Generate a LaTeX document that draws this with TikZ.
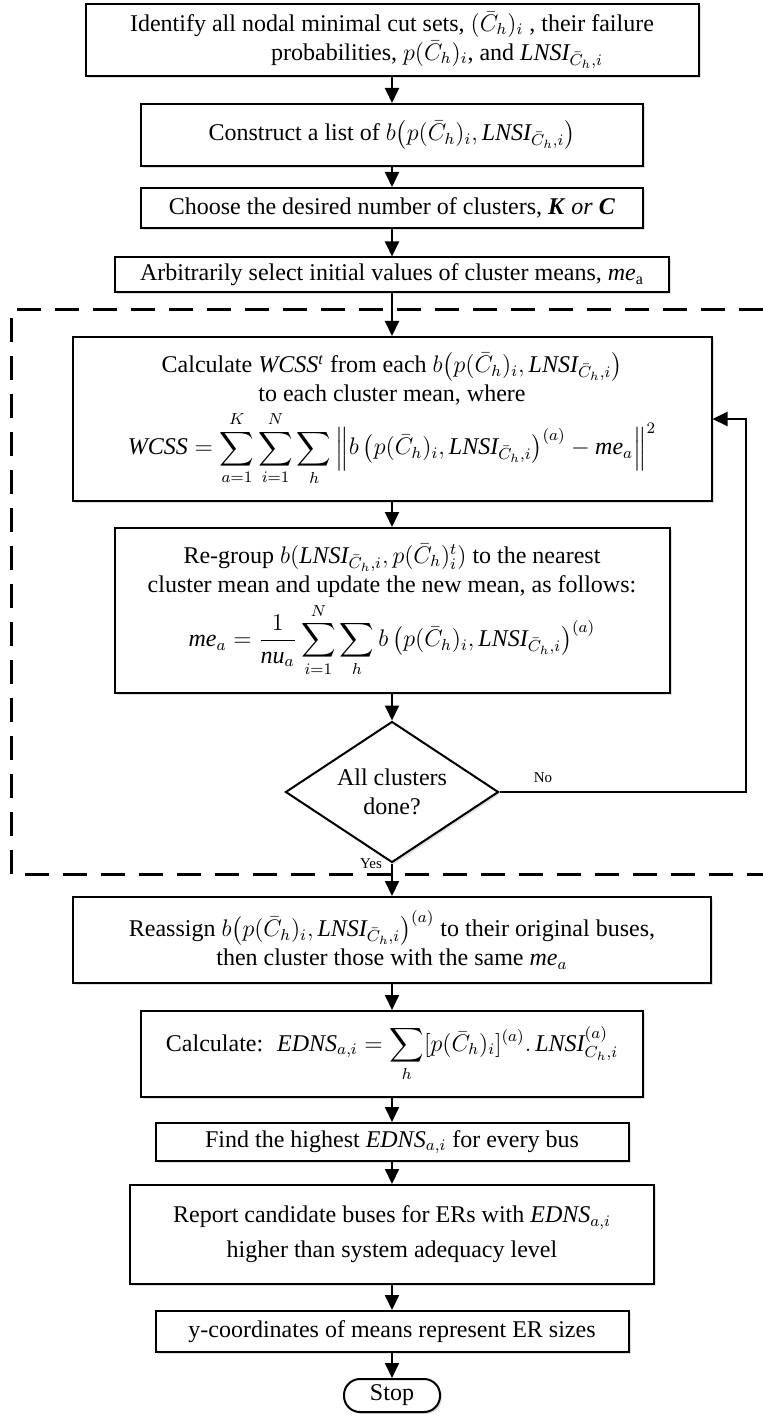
\documentclass[tikz,border=0pt]{standalone}
\usepackage{amsmath,amssymb}
\usepackage{fontspec}
\setmainfont{Liberation Serif}
\usetikzlibrary{shapes.geometric,arrows.meta,shadows}

\begin{document}
\begin{tikzpicture}[x=0.5pt, y=-0.5pt,
    box/.style={draw, line width=1pt, fill=white, align=center, inner sep=1pt,
      drop shadow={shadow xshift=1pt, shadow yshift=-1pt, opacity=0.25},
      font=\fontsize{12}{14.5}\selectfont},
    decide/.style={box, diamond, shape aspect=1.5, inner sep=0pt},
    term/.style={box, rounded corners=8pt},
    arr/.style={line width=1pt, -{Triangle[length=7.5pt, width=7pt]}},
    frame/.style={line width=1.5pt, dash pattern=on 12pt off 7pt},
    tag/.style={font=\fontsize{7.5}{9}\selectfont, inner sep=0pt}]
    \useasboundingbox (0,0) rectangle (763,1416);
    \def\Ch{\bar{C}_h}
    \def\Lnsi{\mathit{LNSI}}
    \def\Edns{\mathit{EDNS}}
    \def\bpair{p(\Ch)_i, \Lnsi_{\Ch,i}}

    % the loop of the clustering
    \draw[frame] (763,310) -| (11,874) -- (763,874);

    \node[box, minimum width=306.5pt, minimum height=36pt] (ident) at (392,40)
      {Identify all nodal minimal cut sets, $(\Ch)_i$ , their failure\\
       \hspace*{45pt}probabilities, $p(\Ch)_i$, and $\Lnsi_{\Ch,i}$};
    \node[box, minimum width=251pt, minimum height=31pt] (constr) at (392,135)
      {Construct a list of $b\bigl(\bpair\bigr)$};
    \node[box, minimum width=251pt, minimum height=20pt] (choose) at (392,208)
      {Choose the desired number of clusters, \textbf{\textit{K}} \textit{or} \textbf{\textit{C}}};
    \node[box, minimum width=277pt, minimum height=17.5pt] (arbit) at (392,275)
      {Arbitrarily select initial values of cluster means, \textit{me}\textsubscript{a}};

    \node[box, minimum width=319.5pt, minimum height=82pt] (wcss) at (392,419)
      {Calculate \textit{WCSS}\textsuperscript{\textit{t}} from each $b\bigl(\bpair\bigr)$\\
       to each cluster mean, where\\[2pt]
       $\displaystyle \mathit{WCSS}=\sum_{a=1}^{K}\sum_{i=1}^{N}\sum_{h}
         \left\| b\left(p(\Ch)_{i}, \Lnsi_{\Ch,i}\right)^{(a)}-\mathit{me}_a\right\|^2$};
    \node[box, minimum width=277.5pt, minimum height=82.5pt] (regroup) at (392,610.5)
      {Re-group $b(\Lnsi_{\Ch,i}, p(\Ch)_i^t)$ to the nearest\\
       cluster mean and update the new mean, as follows:\\[2pt]
       $\displaystyle \mathit{me}_a=\frac{1}{\mathit{nu}_a}\sum_{i=1}^{N}\sum_{h}
         b\left(p(\Ch)_{i}, \Lnsi_{\Ch,i}\right)^{(a)}$};
    \node[decide, minimum width=106.5pt, minimum height=70.5pt] (done) at (392,792)
      {All clusters\\ done?};

    \node[box, minimum width=319pt, minimum height=43pt] (reassign) at (392,940)
      {Reassign $b\bigl(\bpair\bigr)^{(a)}$ to their original buses,\\
       then cluster those with the same $\mathit{me}_a$};
    \node[box, minimum width=251pt, minimum height=43pt] (edns) at (392,1054)
      {Calculate:~ $\displaystyle \Edns_{a,i}=\sum_{h}[p(\Ch)_i]^{(a)}.\,\Lnsi^{(a)}_{C_h,i}$};
    \node[box, minimum width=236.5pt, minimum height=19pt] (highest) at (392,1142)
      {Find the highest $\Edns_{a,i}$ for every bus};
    \node[box, minimum width=262pt, minimum height=49.5pt] (report) at (392,1234.5)
      {Report candidate buses for ERs with $\Edns_{a,i}$\\[3pt]
       higher than system adequacy level};
    \node[box, minimum width=236.5pt, minimum height=20.5pt] (ycoord) at (392,1331.5)
      {y-coordinates of means represent ER sizes};
    \node[term, minimum width=48pt, minimum height=16.5pt] (stop) at (392,1395.5) {Stop};

    \coordinate (back) at (746,600);

    \draw[arr] (ident) -- (constr);
    \draw[arr] (constr) -- (choose);
    \draw[arr] (choose) -- (arbit);
    \draw[arr] (arbit) -- (wcss);
    \draw[arr] (wcss) -- (regroup);
    \draw[arr] (regroup) -- (done);
    \draw[arr] (done.east) -| (back) |- (wcss.east);
    \draw[arr] (done) -- (reassign);
    \draw[arr] (reassign) -- (edns);
    \draw[arr] (edns) -- (highest);
    \draw[arr] (highest) -- (report);
    \draw[arr] (report) -- (ycoord);
    \draw[arr] (ycoord) -- (stop);

    \node[tag] (no) at (543,778) {No};
    \node[tag] (yes) at (371,864) {Yes};
\end{tikzpicture}
\end{document}
